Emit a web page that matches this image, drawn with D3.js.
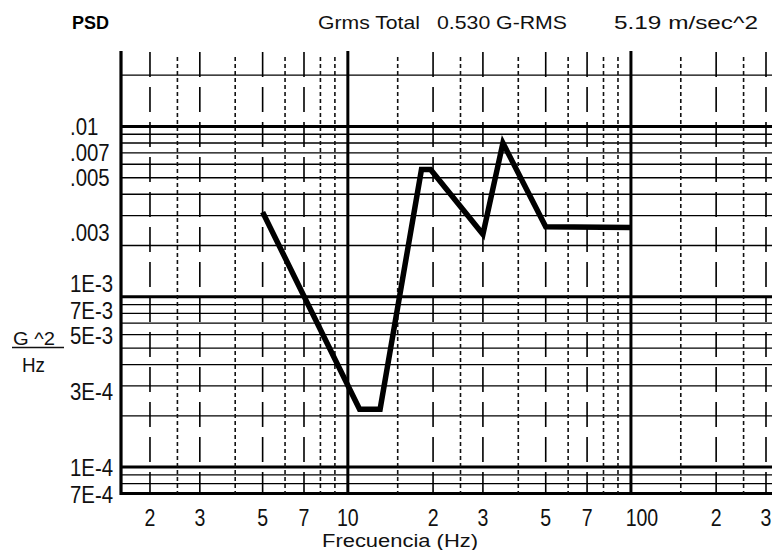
<!DOCTYPE html>
<html><head><meta charset="utf-8">
<script src="https://cdn.jsdelivr.net/npm/d3@7/dist/d3.min.js"></script>
<style>body{margin:0;background:#fff}svg{display:block}</style>
</head><body><svg id="c" width="777" height="550"></svg>
<script>
// ---- data ----
const freqHz = [5, 11, 13, 18.2, 19.6, 30, 35.3, 50, 100];
const psdG2Hz = [0.00314, 0.000219, 0.000219, 0.00559, 0.00559, 0.00233, 0.0080, 0.00258, 0.00255];

const xSolidGrid = [2, 3, 5, 7, 20, 30, 50, 70, 200, 300];
const xDashedGrid = [2.5, 4, 6, 8, 9, 15, 25, 40, 60, 80, 90, 150, 250];
const xMajorGrid = [10, 100];
const yMinorGrid = [0.02, 0.009, 0.008, 0.007, 0.006, 0.005, 0.004, 0.003, 0.002,
                    0.0009, 0.0008, 0.0007, 0.0006, 0.0005, 0.0004, 0.0003, 0.0002,
                    0.00009, 0.00008];
const yMajorGrid = [0.01, 0.001, 0.0001, 0.00007];

const xTickValues = [2, 3, 5, 7, 10, 20, 30, 50, 70, 100, 200, 300];
const xTickLabels = ["2", "3", "5", "7", "10", "2", "3", "5", "7", "100", "2", "3"];
const yTickLabels = [".01", ".007", ".005", ".003", "1E-3", "7E-3", "5E-3", "3E-4", "1E-4", "7E-4"];
const yTickAt = [0.01, 0.007, 0.005, 0.0024, 0.0012, 0.00083, 0.00059, 0.00028, 0.0001, 0.000069];

const xDomain = [1.58, 315];
const yDomain = [0.00007, 0.027];

// ---- layout ----
const L = 121, R = 772, T = 53, B = 493.5;
const svg = d3.select("#c");
const x = d3.scaleLog().domain(xDomain).range([L, R]);
const y = d3.scaleLog().domain(yDomain).range([B, T]);

const g = svg.append("g");

// horizontal minor lines
g.selectAll(".hmin").data(yMinorGrid).join("line")
  .attr("x1", L).attr("x2", R).attr("y1", d => y(d)).attr("y2", d => y(d))
  .attr("stroke", "#000").attr("stroke-width", 1.3);
// horizontal major
g.selectAll(".hmaj").data(yMajorGrid).join("line")
  .attr("x1", L).attr("x2", R).attr("y1", d => y(d)).attr("y2", d => y(d))
  .attr("stroke", "#000").attr("stroke-width", 3);

// vertical dashed
g.selectAll(".vd").data(xDashedGrid).join("line")
  .attr("x1", d => x(d)).attr("x2", d => x(d)).attr("y1", T + 4).attr("y2", B)
  .attr("stroke", "#111").attr("stroke-width", 1.6).attr("stroke-dasharray", "4,3");
// vertical long dash
g.selectAll(".vs").data(xSolidGrid).join("line")
  .attr("x1", d => x(d)).attr("x2", d => x(d)).attr("y1", T - 1).attr("y2", B)
  .attr("stroke", "#000").attr("stroke-width", 1.6).attr("stroke-dasharray", "25,10");
// vertical major
g.selectAll(".vm").data(xMajorGrid).join("line")
  .attr("x1", d => x(d)).attr("x2", d => x(d)).attr("y1", T - 2).attr("y2", B + 1.5)
  .attr("stroke", "#000").attr("stroke-width", 3);
// left axis
g.append("line").attr("x1", L).attr("x2", L).attr("y1", T - 2).attr("y2", B + 1.5)
  .attr("stroke", "#000").attr("stroke-width", 3.2);

// data line
const line = d3.line().x((d, i) => x(freqHz[i])).y(d => y(d));
g.append("path").datum(psdG2Hz).attr("d", line)
  .attr("fill", "none").attr("stroke", "#000").attr("stroke-width", 5.5)
  .attr("stroke-linejoin", "miter").attr("stroke-linecap", "butt");

// y tick labels
const font = "'Liberation Sans', Arial, sans-serif";
yTickLabels.forEach((t, i) => {
  svg.append("text").text(t)
    .attr("transform", `translate(70,${y(yTickAt[i]) + 8.6}) scale(0.85,1)`)
    .attr("font-family", font).attr("font-size", 24).attr("fill", "#111");
});

// x tick labels
xTickLabels.forEach((t, i) => {
  const dx = t === "100" ? 11 : 0;
  svg.append("text").text(t)
    .attr("transform", `translate(${x(xTickValues[i]) + dx},526) scale(0.85,1)`)
    .attr("text-anchor", "middle")
    .attr("font-family", font).attr("font-size", 23).attr("fill", "#111");
});

// x axis title
svg.append("text").text("Frecuencia (Hz)")
  .attr("x", 322).attr("y", 547).attr("textLength", 156).attr("lengthAdjust", "spacingAndGlyphs")
  .attr("font-family", font).attr("font-size", 17.5).attr("fill", "#111");

// y axis title (fraction)
svg.append("text").text("G ^2").attr("x", 13).attr("y", 345)
  .attr("textLength", 42).attr("lengthAdjust", "spacingAndGlyphs")
  .attr("font-family", font).attr("font-size", 18).attr("fill", "#111");
svg.append("line").attr("x1", 12).attr("x2", 64).attr("y1", 347.5).attr("y2", 347.5)
  .attr("stroke", "#111").attr("stroke-width", 1.5);
svg.append("text").text("Hz").attr("x", 22).attr("y", 372)
  .attr("textLength", 23).attr("lengthAdjust", "spacingAndGlyphs")
  .attr("font-family", font).attr("font-size", 20).attr("fill", "#111");

// header
svg.append("text").text("PSD").attr("x", 72).attr("y", 29)
  .attr("font-family", font).attr("font-weight", "bold").attr("font-size", 18).attr("fill", "#000");
svg.append("text").text("Grms Total").attr("x", 318).attr("y", 29)
  .attr("textLength", 102).attr("lengthAdjust", "spacingAndGlyphs")
  .attr("font-family", font).attr("font-size", 19).attr("fill", "#111");
svg.append("text").text("0.530 G-RMS").attr("x", 437).attr("y", 29)
  .attr("textLength", 130).attr("lengthAdjust", "spacingAndGlyphs")
  .attr("font-family", font).attr("font-size", 19).attr("fill", "#111");
svg.append("text").text("5.19 m/sec^2").attr("x", 614).attr("y", 29)
  .attr("textLength", 144).attr("lengthAdjust", "spacingAndGlyphs")
  .attr("font-family", font).attr("font-size", 19).attr("fill", "#111");
</script></body></html>
